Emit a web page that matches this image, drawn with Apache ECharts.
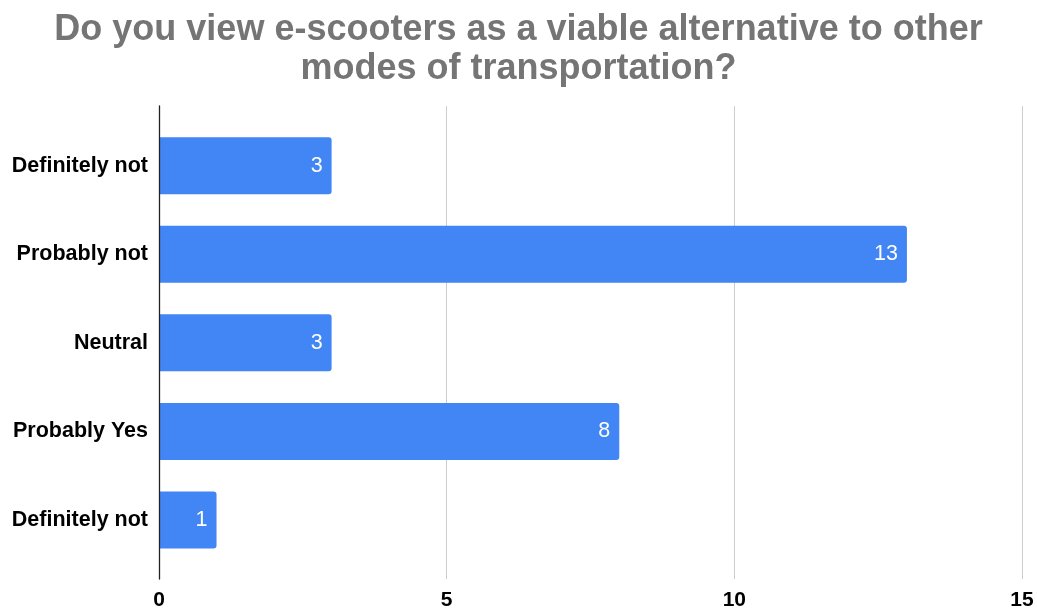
<!DOCTYPE html>
<html>
<head>
<meta charset="utf-8">
<script src="https://cdn.jsdelivr.net/npm/echarts@6/dist/echarts.min.js"></script>
<style>
  html, body { margin: 0; padding: 0; background: #fff; }
  #chart { width: 1037px; height: 614px; }
</style>
</head>
<body>
<div id="chart"></div>
<script>
// Survey answers and response counts
const categories = ['Definitely not', 'Probably not', 'Neutral', 'Probably Yes', 'Definitely not'];
const counts = [3, 13, 3, 8, 1];
const xTicks = { min: 0, max: 15, interval: 5 };
const titleText = 'Do you view e-scooters as a viable alternative to other\nmodes of transportation?';

const FONT = '"Liberation Sans", Arial, sans-serif';
const chart = echarts.init(document.getElementById('chart'), null, { renderer: 'canvas' });

chart.setOption({
  animation: false,
  backgroundColor: '#ffffff',
  title: {
    text: titleText,
    left: 'center',
    top: 6,
    textStyle: {
      fontFamily: FONT,
      fontSize: 36,
      fontWeight: 'bold',
      color: '#757575',
      lineHeight: 39,
      align: 'center'
    }
  },
  grid: [
    // frame for gridlines, tick labels and the zero line
    { left: 159, right: 15, top: 106, bottom: 35, containLabel: false },
    // band area for the bars
    { left: 159, right: 15, top: 121.4, bottom: 49.7, containLabel: false }
  ],
  xAxis: [
    {
      gridIndex: 0,
      type: 'value',
      min: xTicks.min,
      max: xTicks.max,
      interval: xTicks.interval,
      axisLine: { show: false },
      axisTick: { show: false },
      splitLine: { show: true, lineStyle: { color: '#cccccc', width: 1 } },
      axisLabel: {
        margin: 11,
        fontFamily: FONT,
        fontSize: 21,
        fontWeight: 'bold',
        color: '#000000'
      }
    },
    {
      gridIndex: 1,
      type: 'value',
      min: xTicks.min,
      max: xTicks.max,
      interval: xTicks.interval,
      show: false
    }
  ],
  yAxis: [
    {
      gridIndex: 0,
      type: 'value',
      min: 0,
      max: 1,
      z: 5,
      axisLine: { show: true, lineStyle: { color: '#222222', width: 1.3 } },
      axisTick: { show: false },
      axisLabel: { show: false },
      splitLine: { show: false }
    },
    {
      gridIndex: 1,
      type: 'category',
      inverse: true,
      data: categories,
      axisLine: { show: false },
      axisTick: { show: false },
      splitLine: { show: false },
      axisLabel: {
        margin: 11,
        fontFamily: FONT,
        fontSize: 21.5,
        fontWeight: 'bold',
        color: '#000000'
      }
    }
  ],
  series: [
    {
      type: 'bar',
      xAxisIndex: 1,
      yAxisIndex: 1,
      data: counts,
      barWidth: 57,
      itemStyle: { color: '#4285f4', borderRadius: [0, 3, 3, 0] },
      label: {
        show: true,
        position: 'insideRight',
        distance: 9,
        fontFamily: FONT,
        fontSize: 21.5,
        color: '#ffffff'
      }
    }
  ]
});
</script>
</body>
</html>
